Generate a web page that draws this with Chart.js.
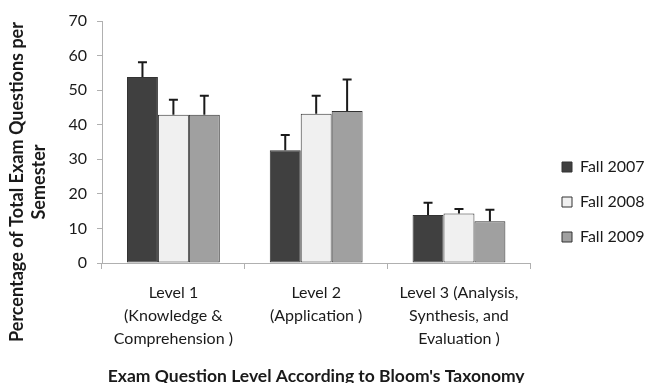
<!DOCTYPE html>
<html><head><meta charset="utf-8">
<script src="https://cdn.jsdelivr.net/npm/chart.js@4/dist/chart.umd.min.js"></script>
<style>html,body{margin:0;padding:0;background:#fff}#wrap{width:650px;height:383px}</style>
</head><body><div id="wrap"><canvas id="c" width="650" height="383"></canvas></div>
<script>
const categories = [
  ["Level 1", "(Knowledge &", "Comprehension )"],
  ["Level 2", "(Application )"],
  ["Level 3 (Analysis,", "Synthesis, and", "Evaluation )"]
];
const seriesNames = ["Fall 2007", "Fall 2008", "Fall 2009"];
const fall2007 = [53.8, 32.6, 13.9];
const fall2007Err = [4.3, 4.4, 3.5];
const fall2008 = [42.9, 43.2, 14.3];
const fall2008Err = [4.3, 5.2, 1.3];
const fall2009 = [42.9, 44.0, 12.1];
const fall2009Err = [5.5, 9.1, 3.3];
const yTickMin = 0, yTickMax = 70, yTickStep = 10;
const xTitle = "Exam Question Level According to Bloom's Taxonomy";
const yTitle = ["Percentage of Total Exam Questions per", "Semester"];

const fills = ["#404040", "#f0f0f0", "#a0a0a0"];
const edge = "#333333";
const axisColor = "#b0b0b0";
const textColor = "#1a1a1a";
const errs = [fall2007Err, fall2008Err, fall2009Err];

const errorBars = {
  id: 'errorBars',
  afterDatasetsDraw(chart) {
    const ctx = chart.ctx, ys = chart.scales.y;
    ctx.save();
    ctx.strokeStyle = "#1a1a1a";
    ctx.lineWidth = 2;
    chart.data.datasets.forEach((ds, di) => {
      const meta = chart.getDatasetMeta(di);
      meta.data.forEach((bar, i) => {
        const v = ds.data[i], e = errs[di][i];
        const yTop = ys.getPixelForValue(v + e);
        const yBase = ys.getPixelForValue(v);
        ctx.beginPath();
        ctx.moveTo(bar.x, yBase);
        ctx.lineTo(bar.x, yTop);
        ctx.moveTo(bar.x - 4.5, yTop);
        ctx.lineTo(bar.x + 4.5, yTop);
        ctx.stroke();
      });
    });
    ctx.restore();
  }
};

const yTitlePlugin = {
  id: 'yTitlePlugin',
  afterDraw(chart) {
    const ctx = chart.ctx;
    ctx.save();
    ctx.fillStyle = textColor;
    ctx.font = "bold 18px Lato";
    ctx.textAlign = "center";
    ctx.textBaseline = "middle";
    const xs = [17, 39];
    yTitle.forEach((line, k) => {
      ctx.save();
      ctx.translate(xs[k], 182);
      ctx.rotate(-Math.PI / 2);
      ctx.fillText(line, 0, 0);
      ctx.restore();
    });
    ctx.restore();
  }
};

const legendShift = {
  id: 'legendShift',
  afterLayout(chart) {
    const L = chart.legend;
    if (!L) return;
    const dx = 543 - L.left;
    L.left += dx; L.right += dx;
  }
};

const mk = (label, data, k) => ({
  label, data,
  backgroundColor: fills[k],
  borderColor: edge,
  borderWidth: 1,
  borderSkipped: false,
  categoryPercentage: 0.65,
  barPercentage: 1.0
});

new Chart(document.getElementById('c'), {
  type: 'bar',
  data: {
    labels: categories,
    datasets: [
      mk(seriesNames[0], fall2007, 0),
      mk(seriesNames[1], fall2008, 1),
      mk(seriesNames[2], fall2009, 2)
    ]
  },
  options: {
    responsive: false,
    animation: false,
    devicePixelRatio: 1,
    layout: { padding: { top: 21, right: 8, bottom: 0, left: 0 } },
    plugins: {
      tooltip: { enabled: false },
      legend: {
        position: 'right',
        labels: {
          font: { family: 'Lato', size: 16 },
          color: textColor,
          boxWidth: 10,
          boxHeight: 10,
          padding: 19
        }
      }
    },
    scales: {
      x: {
        afterFit: s => { s.height = 120; },
        grid: { offset: true, drawOnChartArea: false, drawTicks: true, tickLength: 6, color: axisColor },
        border: { color: axisColor },
        ticks: {
          font: { family: 'Lato', size: 16, lineHeight: 1.44 },
          color: textColor,
          padding: 12,
          maxRotation: 0,
          autoSkip: false
        },
        title: {
          display: true,
          text: xTitle,
          font: { family: 'Lato', size: 17.5, weight: 'bold', lineHeight: 1 },
          color: textColor,
          padding: { top: 0, bottom: -2 }
        }
      },
      y: {
        min: yTickMin, max: yTickMax,
        afterFit: s => { s.width = 102; },
        grid: { drawOnChartArea: false, drawTicks: true, tickLength: 5, color: axisColor },
        border: { color: axisColor },
        ticks: {
          stepSize: yTickStep,
          font: { family: 'Lato', size: 16 },
          color: textColor,
          padding: 10
        }
      }
    }
  },
  plugins: [errorBars, yTitlePlugin, legendShift]
});
</script>
</body></html>
